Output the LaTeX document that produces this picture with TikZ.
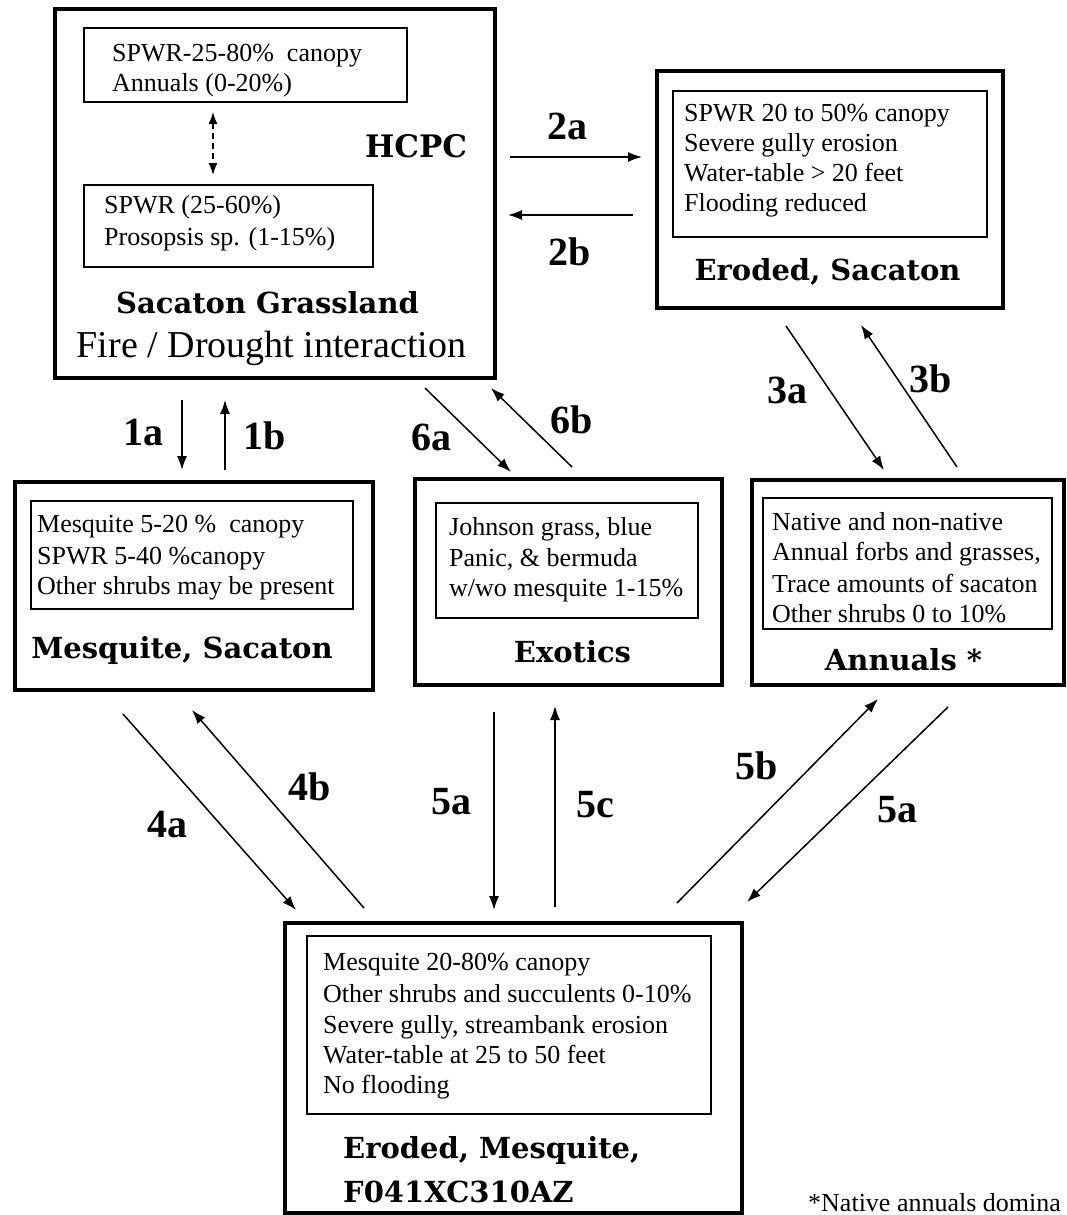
\documentclass[tikz,border=0pt]{standalone}
\usepackage{fontspec}
\setmainfont{Liberation Serif}
\newfontfamily\titlefont{DejaVu Serif}
\usetikzlibrary{arrows.meta}
\begin{document}
\begin{tikzpicture}[x=1pt,y=-1pt,
  outerbox/.style={draw, line width=4pt, rectangle, inner sep=0pt},
  innerbox/.style={draw, line width=1.8pt, rectangle, inner sep=0pt},
  body/.style={font=\fontsize{26}{30}\selectfont, anchor=base west, inner sep=0pt},
  ttl/.style={font=\titlefont\bfseries\fontsize{29}{34}\selectfont, anchor=base, inner sep=0pt},
  lbl/.style={font=\bfseries\fontsize{40}{44}\selectfont, anchor=base, inner sep=0pt},
  arr/.style={-{Latex[length=14pt,width=10pt]}, line width=1.5pt},
  dasharr/.style={{Latex[length=12pt,width=9pt]}-{Latex[length=12pt,width=9pt]}, line width=1.5pt, dash pattern=on 6pt off 4pt}]
\fill[white] (0,0) rectangle (1066,1215);
\useasboundingbox (0,0) rectangle (1066,1215);

% ---------- HCPC box ----------
\node[outerbox, minimum width=440pt, minimum height=369pt] (hcpc) at (275,193.5) {};
\node[innerbox, minimum width=323pt, minimum height=74pt] (hcpcA) at (245.5,65) {};
\node[innerbox, minimum width=289pt, minimum height=82pt] (hcpcB) at (228.5,226) {};
\node[body] (hA1) at (112,62) {SPWR-25-80\%\ \ canopy};
\node[body] (hA2) at (112,92) {Annuals (0-20\%)};
\node[body] (hB1) at (104,213) {SPWR (25-60\%)};
\node[body] (hB2) at (104,245) {Prosopsis sp. (1-15\%)};
\node[ttl, anchor=base west, font=\titlefont\bfseries\fontsize{31}{34}\selectfont] (hcpcT) at (365,157) {HCPC};
\node[ttl] (hcpcN) at (267.5,313) {Sacaton Grassland};
\node[body, anchor=base, font=\fontsize{38}{42}\selectfont] (hcpcF) at (271.5,357) {Fire / Drought interaction};
\coordinate (dA) at (213,112);
\coordinate (dB) at (213,175);
\draw[dasharr] (dA) -- (dB);

% ---------- Eroded, Sacaton ----------
\node[outerbox, minimum width=346pt, minimum height=237pt] (es) at (830,189.5) {};
\node[innerbox, minimum width=314pt, minimum height=146pt] (esI) at (830,164) {};
\node[body] (es1) at (684,121) {SPWR 20 to 50\% canopy};
\node[body] (es2) at (684,151) {Severe gully erosion};
\node[body] (es3) at (684,181) {Water-table > 20 feet};
\node[body] (es4) at (684,211) {Flooding reduced};
\node[ttl] (esT) at (827.5,280) {Eroded, Sacaton};

% ---------- Mesquite, Sacaton ----------
\node[outerbox, minimum width=358pt, minimum height=208pt] (ms) at (194,586) {};
\node[innerbox, minimum width=322pt, minimum height=108pt] (msI) at (192,555) {};
\node[body] (ms1) at (37,532) {Mesquite 5-20 \%\ \ canopy};
\node[body] (ms2) at (37,564) {SPWR 5-40 \%canopy};
\node[body] (ms3) at (37,594) {Other shrubs may be present};
\node[ttl] (msT) at (182,658) {Mesquite, Sacaton};

% ---------- Exotics ----------
\node[outerbox, minimum width=307pt, minimum height=206pt] (ex) at (568.5,582) {};
\node[innerbox, minimum width=262pt, minimum height=115pt] (exI) at (567,560.5) {};
\node[body] (ex1) at (449,535) {Johnson grass, blue};
\node[body] (ex2) at (449,566) {Panic, \& bermuda};
\node[body] (ex3) at (449,596) {w/wo mesquite 1-15\%};
\node[ttl] (exT) at (572.5,662) {Exotics};

% ---------- Annuals ----------
\node[outerbox, minimum width=312pt, minimum height=205pt] (an) at (908,582.5) {};
\node[innerbox, minimum width=289pt, minimum height=131pt] (anI) at (907.5,563.5) {};
\node[body] (an1) at (772,530) {Native and non-native};
\node[body] (an2) at (772,560) {Annual forbs and grasses,};
\node[body] (an3) at (772,592) {Trace amounts of sacaton};
\node[body] (an4) at (772,622) {Other shrubs 0 to 10\%};
\node[ttl] (anT) at (903.5,670) {Annuals *};

% ---------- Eroded, Mesquite ----------
\node[outerbox, minimum width=457pt, minimum height=290pt] (em) at (513.5,1068) {};
\node[innerbox, minimum width=404pt, minimum height=178pt] (emI) at (509,1025) {};
\node[body] (em1) at (323,970) {Mesquite 20-80\% canopy};
\node[body] (em2) at (323,1002) {Other shrubs and succulents 0-10\%};
\node[body] (em3) at (323,1033) {Severe gully, streambank erosion};
\node[body] (em4) at (323,1063) {Water-table at 25 to 50 feet};
\node[body] (em5) at (323,1093) {No flooding};
\node[ttl, anchor=base west] (emT1) at (343,1158) {Eroded, Mesquite,};
\node[ttl, anchor=base west] (emT2) at (343,1202) {F041XC310AZ};

\node[body, font=\fontsize{26}{30}\selectfont] (foot) at (808,1211) {*Native annuals domina};

% ---------- arrow end points ----------
\coordinate (a2s) at (510,157);  \coordinate (a2e) at (642,157);
\coordinate (b2s) at (633,215);  \coordinate (b2e) at (508,215);
\coordinate (a1s) at (182,400);  \coordinate (a1e) at (182,470);
\coordinate (b1s) at (225,470);  \coordinate (b1e) at (225,400);
\coordinate (a6s) at (425,388);  \coordinate (a6e) at (511,472);
\coordinate (b6s) at (572,467);  \coordinate (b6e) at (491,388);
\coordinate (a3s) at (786,326);  \coordinate (a3e) at (884,470);
\coordinate (b3s) at (957,467);  \coordinate (b3e) at (861,325);
\coordinate (a4s) at (123,714);  \coordinate (a4e) at (296,910);
\coordinate (b4s) at (364,908);  \coordinate (b4e) at (192,710);
\coordinate (a5s) at (494,712);  \coordinate (a5e) at (494,910);
\coordinate (c5s) at (555,907);  \coordinate (c5e) at (555,706);
\coordinate (b5s) at (677,903);  \coordinate (b5e) at (878,699);
\coordinate (d5s) at (948,707);  \coordinate (d5e) at (747,902);

\draw[arr] (a2s) -- (a2e);
\draw[arr] (b2s) -- (b2e);
\draw[arr] (a1s) -- (a1e);
\draw[arr] (b1s) -- (b1e);
\draw[arr] (a6s) -- (a6e);
\draw[arr] (b6s) -- (b6e);
\draw[arr] (a3s) -- (a3e);
\draw[arr] (b3s) -- (b3e);
\draw[arr] (a4s) -- (a4e);
\draw[arr] (b4s) -- (b4e);
\draw[arr] (a5s) -- (a5e);
\draw[arr] (c5s) -- (c5e);
\draw[arr] (b5s) -- (b5e);
\draw[arr] (d5s) -- (d5e);

% ---------- labels ----------
\node[lbl] (l2a) at (567,139) {2a};
\node[lbl] (l2b) at (570,265) {2b};
\node[lbl] (l1a) at (143,445) {1a};
\node[lbl] (l1b) at (265,449) {1b};
\node[lbl] (l6a) at (431,450) {6a};
\node[lbl] (l6b) at (571.5,433) {6b};
\node[lbl] (l3a) at (787,403) {3a};
\node[lbl] (l3b) at (930.5,392) {3b};
\node[lbl] (l4a) at (167,837) {4a};
\node[lbl] (l4b) at (309.5,800) {4b};
\node[lbl] (l5a) at (451.5,814) {5a};
\node[lbl] (l5c) at (595.5,817) {5c};
\node[lbl] (l5b) at (757,779) {5b};
\node[lbl] (l5d) at (897,822) {5a};
\end{tikzpicture}
\end{document}
